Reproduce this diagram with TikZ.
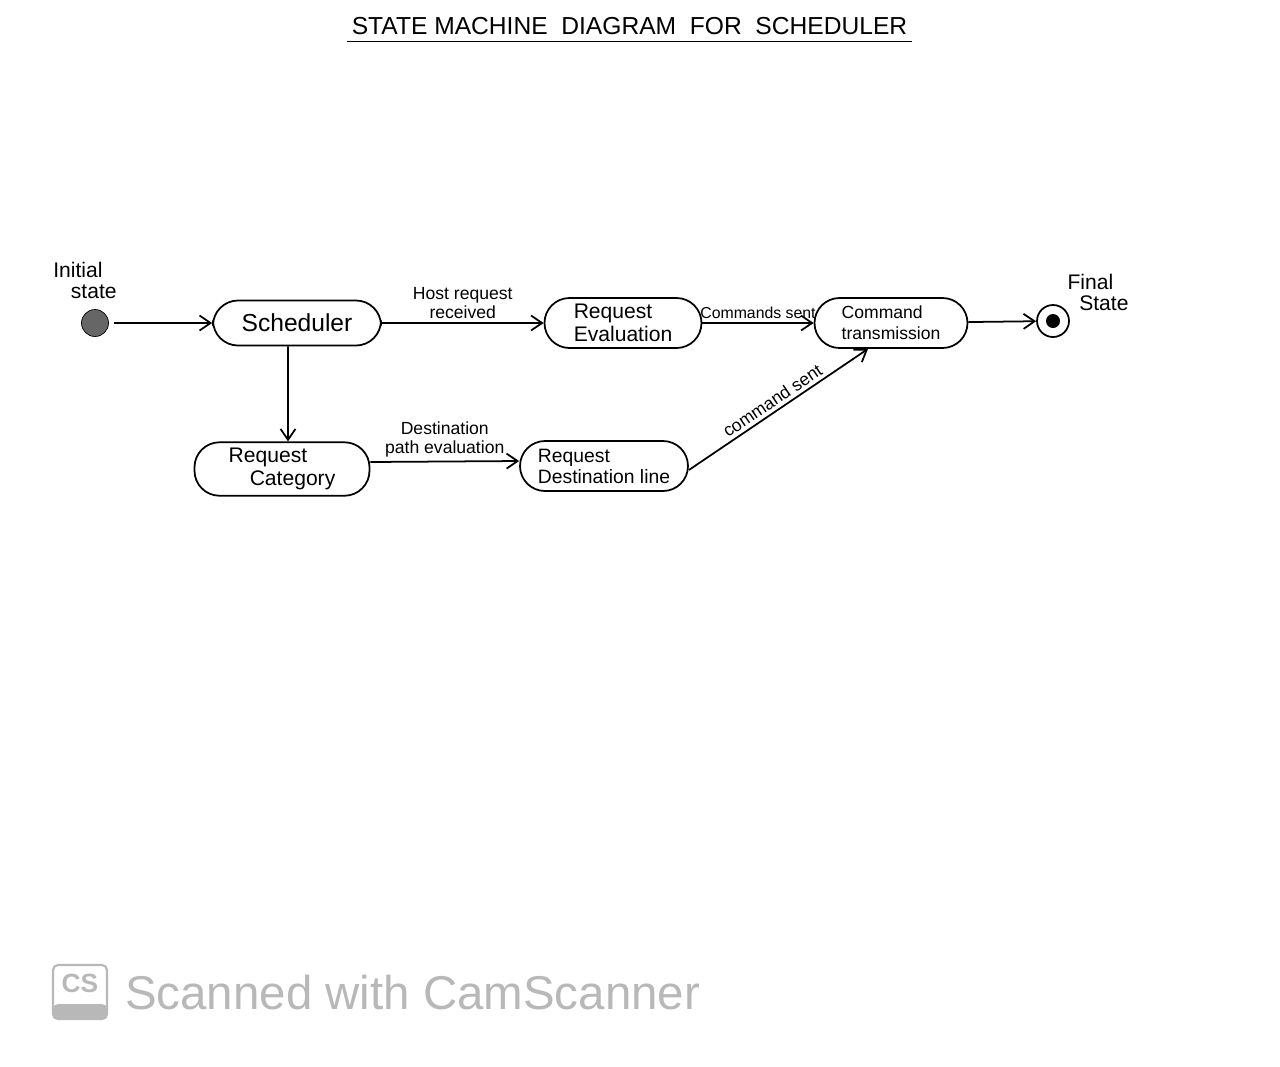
\documentclass[tikz,border=0pt]{standalone}
\usepackage{fontspec}
\setmainfont{Liberation Sans}
\usetikzlibrary{positioning,arrows.meta}
\tikzset{statebox/.style={draw, line width=1pt, rectangle, rounded corners=5mm,
    minimum height=10mm, align=left, font=\fontsize{12}{13}\selectfont},
  trigger/.style={font=\fontsize{10}{11}\selectfont, align=center, inner sep=2pt},
  trans/.style={-{Straight Barb[length=2.2mm,width=3mm]}, line width=1pt},
  stamp/.style={text=black!28, font=\fontsize{27}{30}\selectfont}}

\begin{document}
\begin{tikzpicture}
		\useasboundingbox (0,0) rectangle (25.6,-21.32);

		% Title
		\node[font=\fontsize{14}{16}\selectfont, minimum width=11.3cm, inner xsep=0pt, inner ysep=1.3mm]
      (title) at (12.59, -0.52) {STATE MACHINE \ DIAGRAM \ FOR \ SCHEDULER};
		\draw[line width=0.8pt] (title.south west) -- (title.south east);

		% Pseudo states
		\node[circle, draw, fill=black!60, minimum size=5.4mm, inner sep=0pt] (init) at (1.9, -6.46) {};
		\node[align=left, font=\fontsize{12}{12}\selectfont] (init-label) at (1.7, -5.6) {Initial\\ \ \ \ state};

		\node[circle, draw, line width=1pt, minimum size=6.4mm, inner sep=0pt] (final) at (21.06, -6.42) {};
		\fill (final.center) circle (0.14);
		\node[align=left, font=\fontsize{12}{12}\selectfont] (final-label) at (21.96, -5.84) {Final\\ \ \ State};

		% States
		\node[statebox, minimum width=33.6mm, font=\fontsize{14}{15}\selectfont, minimum height=9mm]
      (sched) at (5.94, -6.46) {Scheduler};
		\node[statebox, minimum width=31.4mm] (reqeval) at (12.46, -6.46) {Request\\ Evaluation};
		\node[statebox, minimum width=30.6mm, font=\fontsize{10}{12}\selectfont]
      (cmdtx) at (17.82, -6.46) {Command\\ transmission};
		\node[statebox, minimum width=35mm] (reqcat) at (5.64, -9.38) {Request\\ \quad Category};
		\node[statebox, minimum width=33.6mm, font=\fontsize{11}{12}\selectfont]
      (reqdest) at (12.08, -9.32) {Request\\ Destination line};

		% Transitions
		\draw[trans, shorten <=1mm] (init) -- (sched);
		\draw[trans] (sched) -- (reqeval)
      node[trigger, midway, above] {Host request\\ received};
		\draw[trans] (reqeval) -- (cmdtx)
      node[trigger, midway, above, font=\fontsize{9}{10}\selectfont] {Commands sent};
		\draw[trans] (cmdtx) -- (final);
		\draw[trans] ([xshift=-1.8mm]sched.south) -- ([xshift=1.2mm]reqcat.north);
		\draw[trans] ([yshift=1.4mm]reqcat.east) -- ([yshift=1mm]reqdest.west)
      node[trigger, midway, above] {Destination\\ path evaluation};
		\draw[trans] ([yshift=-0.8mm]reqdest.east) -- ([xshift=-4.6mm]cmdtx.south)
      node[trigger, midway, above, sloped] {command sent};

		% Scanner stamp
		\draw[black!28, line width=1.2pt, rounded corners=1mm] (1.06, -19.3) rectangle (2.14, -20.38);
		\fill[black!28, rounded corners=1mm] (1.06, -20.08) rectangle (2.14, -20.38);
		\node[text=black!28, font=\fontsize{15}{15}\selectfont\bfseries] (cs) at (1.6, -19.66) {CS};
		\node[stamp, anchor=west] (scanned) at (2.38, -19.86) {Scanned with CamScanner};

	\end{tikzpicture}
\end{document}
